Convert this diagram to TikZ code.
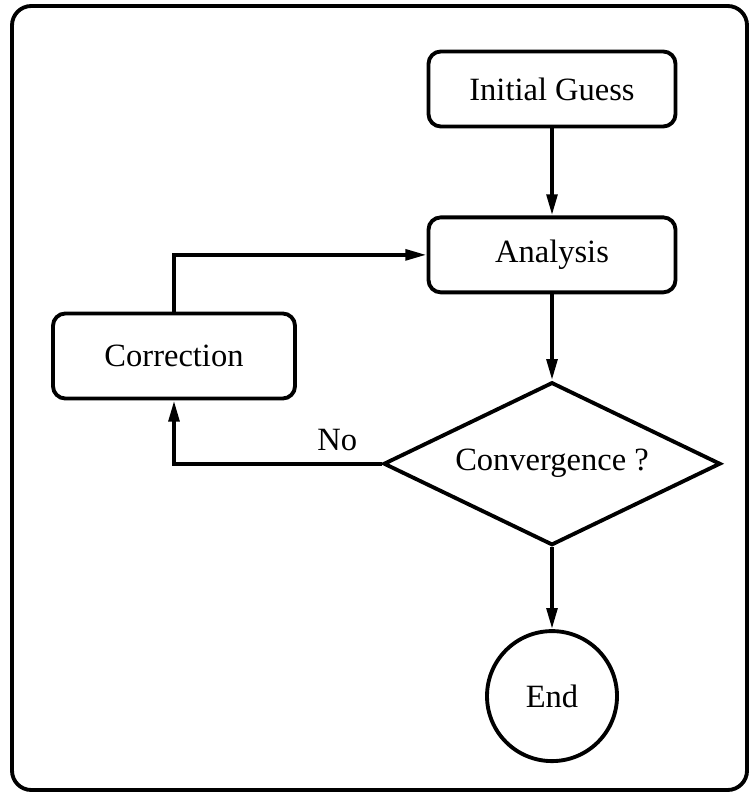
\documentclass[tikz,border=0pt]{standalone}
\usepackage{fontspec}
\setmainfont{Liberation Serif}
\usetikzlibrary{arrows.meta,positioning,shapes.geometric}

\begin{document}
\begin{tikzpicture}[
  box/.style={draw, rounded corners=7pt, line width=2.2pt, align=center,
              minimum width=49.4mm, minimum height=15mm, inner sep=4pt},
  dec/.style={draw, diamond, shape aspect=2.07, line width=2.2pt, inner sep=0pt,
              minimum width=67.4mm, minimum height=32.6mm},
  term/.style={draw, circle, line width=2.2pt, minimum size=26mm, inner sep=0pt},
  lbl/.style={inner sep=6pt},
  ar/.style={-{Triangle[length=12pt, width=6pt]}, line width=2.2pt},
  font=\fontsize{18.5}{22}\selectfont,
]
\useasboundingbox (0,0) rectangle (15,-15.86);
\draw[line width=2.2pt, rounded corners=11pt] (0.24,-0.12) rectangle (14.94,-15.8);

\node[box] (ig) at (11.04,-1.78) {Initial Guess};
\node[box, below=17.4mm of ig] (an) {Analysis};
\node[dec, below=17.2mm of an] (cv) {Convergence ?};
\node[term, below=16.4mm of cv] (end) {End};
\node[box, minimum width=48.4mm, minimum height=17mm] (cr) at (3.48,-7.12) {Correction};

\draw[ar] (ig) -- (an);
\draw[ar] (an) -- (cv);
\draw[ar] (cv) -- (end);
\draw[ar] (cv.west) -| node[lbl, pos=0.107, above] (no) {No} (cr.south);
\draw[ar] (cr.north) |- (an.west);
\end{tikzpicture}
\end{document}
